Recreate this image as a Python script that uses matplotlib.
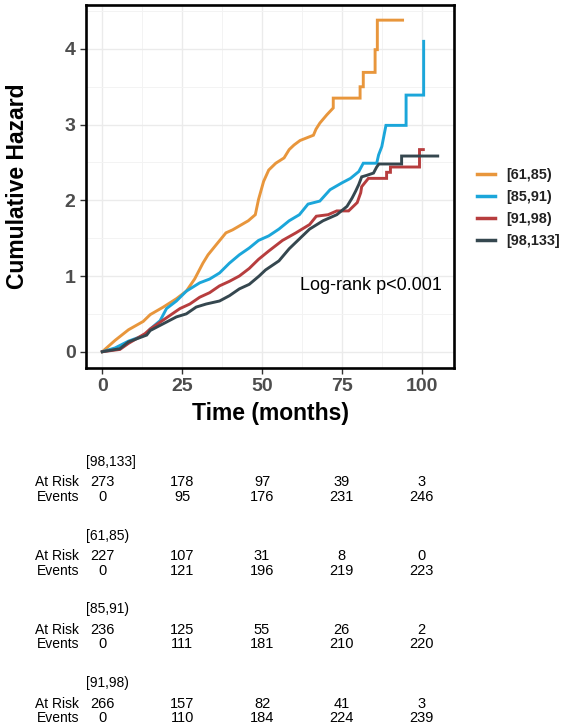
import numpy as np
import matplotlib.pyplot as plt
from matplotlib.lines import Line2D
from matplotlib.transforms import blended_transform_factory

plt.rcParams['font.family'] = ['Liberation Sans', 'DejaVu Sans']

# --- curve (tempo, rischio cumulato); i salti grandi hanno due punti ---
t_6185 = [0, 4, 8.2, 12.8, 15, 19.1, 23.2, 26.3, 28.9, 31.5, 33.1, 35.6, 38.7, 40.8,
          45.7, 47.9, 48.9, 50.5, 52.1, 54.3, 56.9, 58.5, 60, 61.9, 66.1, 66.9, 68.1,
          70.3, 72.3, 72.3, 80.7, 80.7, 81.7, 81.7, 85.4, 85.4, 86.1, 86.1, 94]
h_6185 = [0, 0.15, 0.29, 0.40, 0.49, 0.59, 0.70, 0.80, 0.96, 1.17, 1.28, 1.41, 1.57, 1.61,
          1.73, 1.81, 2.01, 2.25, 2.40, 2.49, 2.56, 2.67, 2.73, 2.79, 2.86, 2.94, 3.02,
          3.13, 3.22, 3.35, 3.35, 3.50, 3.50, 3.69, 3.69, 3.99, 3.99, 4.38, 4.38]

t_8591 = [0, 4, 8.2, 13.4, 15, 18.1, 20.1, 23.2, 26.3, 30.5, 33.6, 36.7, 39.8, 42.9, 46,
          48.9, 52.1, 55.3, 58.5, 61.7, 64.4, 68.1, 71.3, 75, 77.7, 80.3, 81.7, 85.9,
          86.5, 87.5, 88.8, 95.1, 95.1, 100.6, 100.6]
h_8591 = [0, 0.05, 0.14, 0.22, 0.30, 0.41, 0.57, 0.67, 0.80, 0.91, 0.96, 1.04, 1.17, 1.28,
          1.37, 1.47, 1.53, 1.62, 1.73, 1.81, 1.95, 1.99, 2.14, 2.23, 2.29, 2.38, 2.49,
          2.49, 2.60, 2.71, 2.99, 2.99, 3.39, 3.39, 4.10]

t_9198 = [0, 5.5, 8.2, 13.4, 15, 18.1, 21.2, 24.3, 27.4, 30.5, 33.6, 36.7, 39.8, 42.9, 46,
          48.9, 52.1, 56.4, 60.6, 64.9, 67, 70.7, 73.4, 77.1, 79.8, 80.9, 81.2, 83.3,
          89.0, 89.0, 90.2, 90.2, 99.3, 99.3, 100.5]
h_9198 = [0, 0.03, 0.11, 0.24, 0.30, 0.39, 0.48, 0.57, 0.63, 0.72, 0.78, 0.87, 0.93, 1.0,
          1.10, 1.22, 1.33, 1.47, 1.57, 1.68, 1.79, 1.81, 1.86, 1.86, 1.97, 2.10, 2.18,
          2.29, 2.29, 2.37, 2.37, 2.44, 2.44, 2.67, 2.67]

t_98133 = [0, 5.5, 8.2, 13.9, 15, 19.1, 23.2, 26.3, 29.4, 32.5, 36.7, 39.8, 42.9, 46,
           49.1, 51.1, 55.3, 58.5, 61.7, 64.9, 69.1, 73.4, 76.6, 78.2, 79.3, 80.3, 81.2,
           82.8, 84.9, 85.9, 86.6, 93.7, 93.7, 105]
h_98133 = [0, 0.04, 0.13, 0.22, 0.28, 0.37, 0.46, 0.50, 0.59, 0.63, 0.67, 0.74, 0.83, 0.89,
           1.0, 1.08, 1.20, 1.36, 1.49, 1.62, 1.73, 1.81, 1.92, 2.03, 2.12, 2.21, 2.31,
           2.33, 2.36, 2.44, 2.48, 2.48, 2.585, 2.585]

gruppi = ['[61,85)', '[85,91)', '[91,98)', '[98,133]']
colori = ['#E8963C', '#1BA6DA', '#B73D3E', '#35474F']

# --- tabella dei soggetti a rischio ---
tempi_tab = [0, 25, 50, 75, 100]
gruppi_tab = ['[98,133]', '[61,85)', '[85,91)', '[91,98)']
at_risk = [[273, 178, 97, 39, 3],
           [227, 107, 31, 8, 0],
           [236, 125, 55, 26, 2],
           [266, 157, 82, 41, 3]]
events = [[0, 95, 176, 231, 246],
          [0, 121, 196, 219, 223],
          [0, 111, 181, 210, 220],
          [0, 110, 184, 224, 239]]

W, H = 566, 726
fig = plt.figure(figsize=(W / 100, H / 100), dpi=100)
ax = fig.add_axes([86 / W, 1 - 368 / H, (454 - 86) / W, (368 - 5) / H])

curve = [(t_6185, h_6185), (t_8591, h_8591), (t_9198, h_9198), (t_98133, h_98133)]
for (t, h), c in zip(curve, colori):
    ax.plot(t, h, color=c, lw=2.1, solid_joinstyle='miter')

ax.set_xlim(-5.1, 110.1)
ax.set_ylim(-0.215, 4.58)
ax.set_xticks(tempi_tab)
ax.set_yticks([0, 1, 2, 3, 4])
ax.set_xticks(np.arange(12.5, 110, 25), minor=True)
ax.set_yticks(np.arange(0.5, 4.6, 1), minor=True)
ax.grid(which='major', color='#EBEBEB', lw=1.0)
ax.grid(which='minor', color='#F3F3F3', lw=0.7)
ax.set_axisbelow(True)
ax.tick_params(which='minor', length=0)
ax.tick_params(which='major', length=4.5, width=1.0, color='#333333',
               labelsize=14, labelcolor='#4D4D4D', pad=3)
for lab in ax.get_xticklabels() + ax.get_yticklabels():
    lab.set_fontweight('bold')
for s in ax.spines.values():
    s.set_linewidth(1.9)
    s.set_color('black')

ax.set_xlabel('Time (months)', fontsize=16.5, fontweight='bold', labelpad=5)
ax.set_ylabel('Cumulative Hazard', fontsize=16.5, fontweight='bold', labelpad=26)
ax.text(61.9, 0.88, 'Log-rank p<0.001', fontsize=13, va='center', ha='left')

handles = [Line2D([], [], color=c, lw=2.5) for c in colori]
leg = fig.legend(handles, gruppi, loc='center left', bbox_to_anchor=(464 / W, 1 - 208 / H),
                 frameon=False, handlelength=1.25, handletextpad=0.75, labelspacing=0.55,
                 prop={'size': 10.4, 'weight': 'bold'})
for txt in leg.get_texts():
    txt.set_color('#222222')

# tabella: numeri allineati ai tick dell'asse x
tr = blended_transform_factory(ax.transData, fig.transFigure)
for i, g in enumerate(gruppi_tab):
    y0 = 462 + i * 73.7
    fig.text(86 / W, 1 - y0 / H, g, fontsize=10, ha='left', va='center')
    fig.text(79 / W, 1 - (y0 + 20.5) / H, 'At Risk', fontsize=10, ha='right', va='center')
    fig.text(79 / W, 1 - (y0 + 35) / H, 'Events', fontsize=10, ha='right', va='center')
    for j, tt in enumerate(tempi_tab):
        ax.text(tt, 1 - (y0 + 20.5) / H, str(at_risk[i][j]), fontsize=10.5,
                ha='center', va='center', transform=tr)
        ax.text(tt, 1 - (y0 + 35) / H, str(events[i][j]), fontsize=10.5,
                ha='center', va='center', transform=tr)

fig.savefig('out.png', dpi=100)
